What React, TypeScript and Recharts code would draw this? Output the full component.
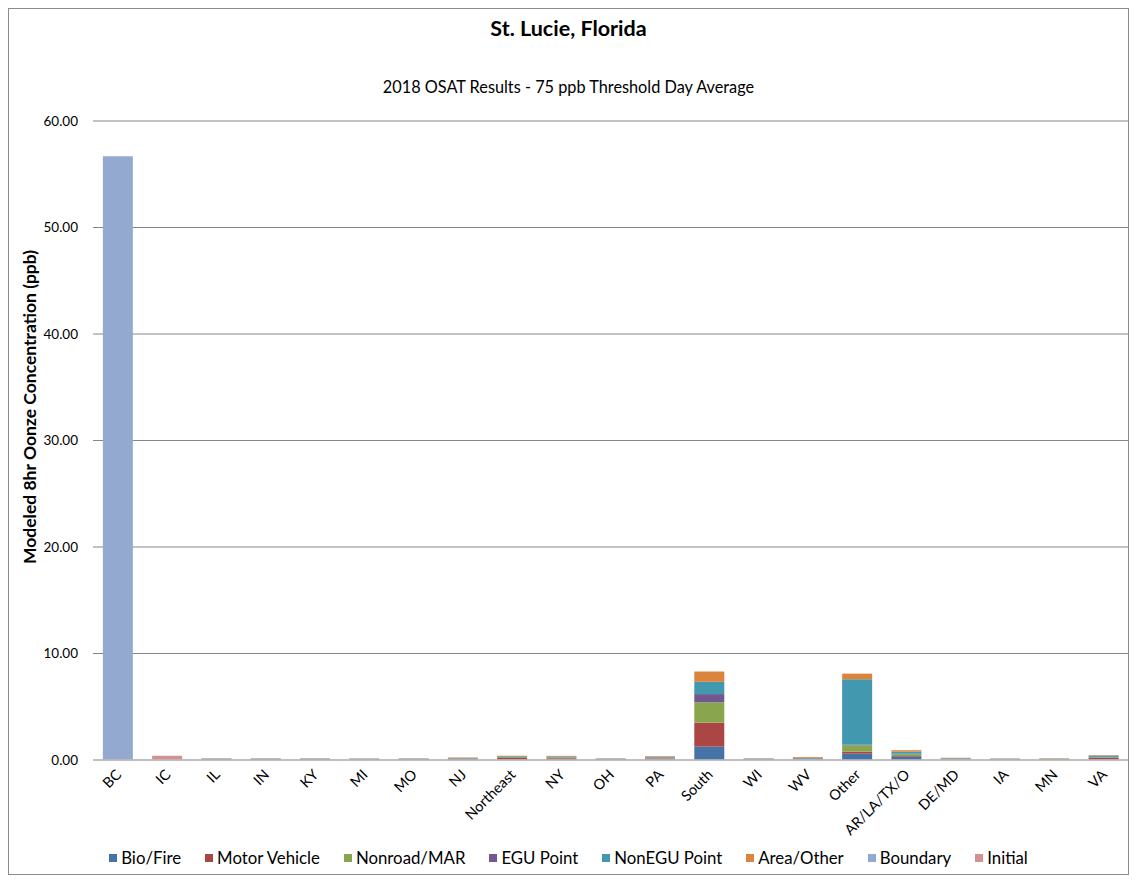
import React from "react";
import { BarChart, Bar, XAxis, YAxis, CartesianGrid, Legend } from "recharts";

const categories = [
  "BC", "IC", "IL", "IN", "KY", "MI", "MO", "NJ", "Northeast", "NY", "OH",
  "PA", "South", "WI", "WV", "Other", "AR/LA/TX/O", "DE/MD", "IA", "MN", "VA",
];

// values in ppb
const bioFire = [0, 0, 0.02, 0.02, 0.02, 0.02, 0.02, 0.03, 0.04, 0.03, 0.02, 0.06, 1.25, 0.02, 0.03, 0.59, 0.28, 0.03, 0.02, 0.02, 0.05];
const motorVehicle = [0, 0, 0.03, 0.03, 0.03, 0.03, 0.03, 0.05, 0.14, 0.13, 0.03, 0.06, 2.25, 0.03, 0.04, 0.19, 0.08, 0.04, 0.03, 0.03, 0.16];
const nonroadMar = [0, 0, 0.02, 0.02, 0.02, 0.02, 0.02, 0.05, 0.08, 0.07, 0.02, 0.04, 1.91, 0.02, 0.03, 0.6, 0.18, 0.04, 0.02, 0.02, 0.05];
const eguPoint = [0, 0, 0.04, 0.04, 0.04, 0.03, 0.04, 0.03, 0.03, 0.03, 0.04, 0.07, 0.78, 0.03, 0.05, 0.05, 0.05, 0.03, 0.03, 0.03, 0.03];
const nonEguPoint = [0, 0, 0.03, 0.03, 0.03, 0.03, 0.03, 0.04, 0.07, 0.08, 0.03, 0.05, 1.15, 0.04, 0.04, 6.15, 0.19, 0.04, 0.03, 0.03, 0.13];
const areaOther = [0, 0, 0.02, 0.02, 0.02, 0.02, 0.02, 0.04, 0.04, 0.05, 0.02, 0.07, 0.97, 0.02, 0.08, 0.53, 0.14, 0.03, 0.02, 0.03, 0.04];
const boundary = [56.7, 0, 0, 0, 0, 0, 0, 0, 0, 0, 0, 0, 0, 0, 0, 0, 0, 0, 0, 0, 0];
const initial = [0, 0.4, 0, 0, 0, 0, 0, 0, 0, 0, 0, 0, 0, 0, 0, 0, 0, 0, 0, 0, 0];

const yTicks = [0, 10, 20, 30, 40, 50, 60];

const SERIES = [
  { key: "bio", name: "Bio/Fire", color: "#4572A7", values: bioFire },
  { key: "mv", name: "Motor Vehicle", color: "#AA4643", values: motorVehicle },
  { key: "nonroad", name: "Nonroad/MAR", color: "#89A54E", values: nonroadMar },
  { key: "egu", name: "EGU Point", color: "#71588F", values: eguPoint },
  { key: "nonegu", name: "NonEGU Point", color: "#4198AF", values: nonEguPoint },
  { key: "area", name: "Area/Other", color: "#DB843D", values: areaOther },
  { key: "boundary", name: "Boundary", color: "#93A9CF", values: boundary },
  { key: "initial", name: "Initial", color: "#D19392", values: initial },
];

const data = categories.map((name, i) => {
  const row: Record<string, number | string> = { name };
  SERIES.forEach((s) => (row[s.key] = s.values[i]));
  return row;
});

const FONT = "Lato, 'Open Sans', sans-serif";

function XTick({ x, y, payload }: any) {
  return (
    <g transform={`translate(${x + 1},${y + 4}) rotate(-45)`}>
      <text textAnchor="end" dy="0.35em" fontSize={14.5} fill="#000" fontFamily={FONT}>
        {payload.value}
      </text>
    </g>
  );
}

function LegendContent() {
  return (
    <div style={{ display: "flex", justifyContent: "center", gap: 24, fontFamily: FONT, fontSize: 16.8, height: 20, lineHeight: "20px" }}>
      {SERIES.map((s) => (
        <div key={s.key} style={{ display: "flex", alignItems: "center" }}>
          <span style={{ width: 8, height: 8, background: s.color, marginRight: 4, display: "inline-block" }} />
          <span>{s.name}</span>
        </div>
      ))}
    </div>
  );
}

export default function App() {
  return (
    <div style={{ position: "relative", width: 1119, height: 865, border: "1px solid #8c8c8c", background: "#fff", fontFamily: FONT }}>
      <div style={{ position: "absolute", top: 6, left: 0, width: "100%", textAlign: "center", fontSize: 21.5, fontWeight: 700 }}>
        St. Lucie, Florida
      </div>
      <div style={{ position: "absolute", top: 68, left: 0, width: "100%", textAlign: "center", fontSize: 16.3 }}>
        2018 OSAT Results - 75 ppb Threshold Day Average
      </div>
      <div style={{ position: "absolute", left: 21, top: 398, width: 0, height: 0 }}>
        <div style={{ position: "absolute", transform: "translate(-50%,-50%) rotate(-90deg)", whiteSpace: "nowrap", fontSize: 17.5, fontWeight: 700, lineHeight: 1 }}>
          Modeled 8hr Oonze Concentration (ppb)
        </div>
      </div>
      <BarChart
        width={1119}
        height={865}
        data={data}
        margin={{ top: 112, right: 0, left: 0, bottom: 6 }}
        barCategoryGap="20%"
      >
        <CartesianGrid vertical={false} stroke="#868686" />
        <XAxis
          dataKey="name"
          interval={0}
          height={88}
          tick={<XTick />}
          tickLine={false}
          axisLine={{ stroke: "#bfbfbf", strokeWidth: 1.5 }}
        />
        <YAxis
          width={84}
          domain={[0, 60]}
          ticks={yTicks}
          tickFormatter={(v: number) => v.toFixed(2)}
          axisLine={false}
          tickLine={false}
          tick={{ fontSize: 13.5, fill: "#000", fontFamily: FONT }}
          tickMargin={9}
        />
        <Legend verticalAlign="bottom" height={20} content={<LegendContent />} />
        {SERIES.map((s) => (
          <Bar key={s.key} dataKey={s.key} name={s.name} stackId="a" fill={s.color} isAnimationActive={false} />
        ))}
      </BarChart>
    </div>
  );
}
